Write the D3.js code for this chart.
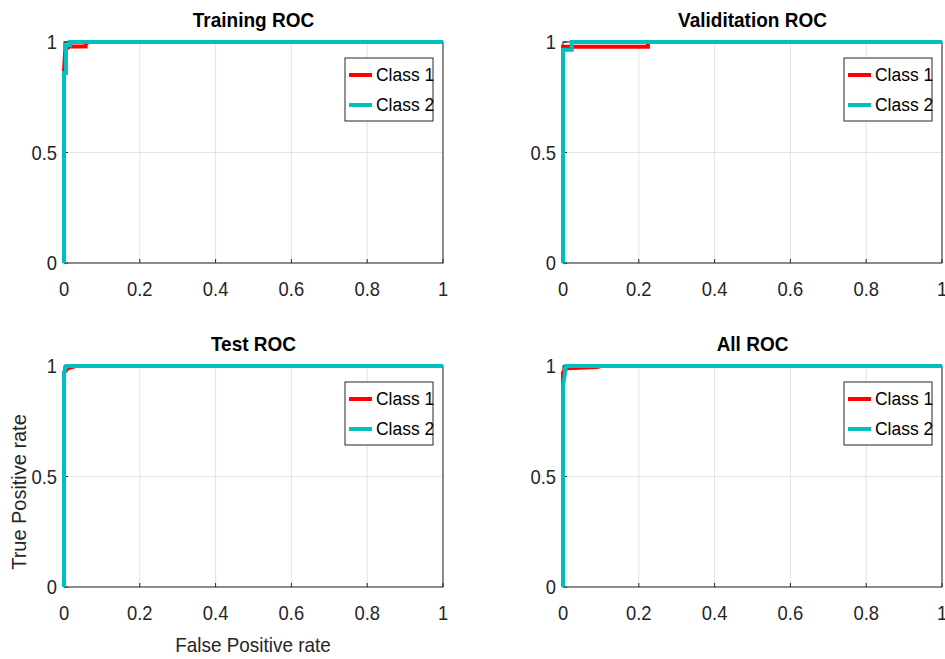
<!DOCTYPE html>
<html>
<head>
<meta charset="utf-8">
<script src="https://cdn.jsdelivr.net/npm/d3@7"></script>
<style>
  body { margin: 0; background: #fff; }
  text { font-family: "Liberation Sans", Arial, sans-serif; fill: #262626; }
</style>
</head>
<body>
<svg id="chart" width="945" height="659"></svg>
<script>
var width = 945, height = 659;

var panelTitles = ["Training ROC", "Validitation ROC", "Test ROC", "All ROC"];
var classNames = ["Class 1", "Class 2"];
var classColors = ["#ff0000", "#00bfbf"];
var xTicks = [0, 0.2, 0.4, 0.6, 0.8, 1];
var yTicks = [0, 0.5, 1];

// ROC points per panel: [fpr, tpr]
var trainClass1 = [[0, 0], [0, 0.87], [0.003, 0.95], [0.006, 0.97], [0.015, 0.98], [0.057, 0.98], [0.057, 0.99], [0.065, 1], [1, 1]];
var trainClass2 = [[0, 0], [0, 0.86], [0.005, 0.86], [0.005, 0.985], [0.016, 0.985], [0.016, 1], [1, 1]];
var valClass1 = [[0, 0], [0, 0.978], [0.224, 0.978], [0.224, 1], [1, 1]];
var valClass2 = [[0, 0], [0, 0.965], [0.023, 0.965], [0.023, 1], [1, 1]];
var testClass1 = [[0, 0], [0, 0.97], [0.01, 0.99], [0.03, 1], [1, 1]];
var testClass2 = [[0, 0], [0, 0.97], [0.006, 1], [1, 1]];
var allClass1 = [[0, 0], [0, 0.97], [0.01, 0.99], [0.09, 0.995], [0.1, 1], [1, 1]];
var allClass2 = [[0, 0], [0, 0.91], [0.008, 1], [1, 1]];

var panelSeries = [
  [trainClass1, trainClass2],
  [valClass1, valClass2],
  [testClass1, testClass2],
  [allClass1, allClass2]
];

var svg = d3.select("#chart");

// axes boxes
var panelX = [64, 563];
var panelY = [42, 366];
var plotW = 379, plotH = 221;

panelSeries.forEach((series, i) => {
  var left = panelX[i % 2];
  var top = panelY[Math.floor(i / 2)];

  var x = d3.scaleLinear().domain([0, 1]).range([0, plotW]);
  var y = d3.scaleLinear().domain([0, 1]).range([plotH, 0]);

  var g = svg.append("g")
      .attr("transform", `translate(${left}, ${top})`);

  // grid
  g.selectAll(".gx")
    .data(xTicks)
    .enter()
    .append("line")
      .attr("x1", d => x(d)).attr("x2", d => x(d))
      .attr("y1", 0).attr("y2", plotH)
      .attr("stroke", "#e3e3e3")
      .attr("stroke-width", 1);

  g.selectAll(".gy")
    .data(yTicks)
    .enter()
    .append("line")
      .attr("x1", 0).attr("x2", plotW)
      .attr("y1", d => y(d)).attr("y2", d => y(d))
      .attr("stroke", "#e3e3e3")
      .attr("stroke-width", 1);

  // box
  g.append("rect")
      .attr("width", plotW)
      .attr("height", plotH)
      .attr("fill", "none")
      .attr("stroke", "#262626")
      .attr("stroke-width", 1);

  // inward ticks
  g.selectAll(".tx")
    .data(xTicks)
    .enter()
    .append("line")
      .attr("x1", d => x(d)).attr("x2", d => x(d))
      .attr("y1", plotH).attr("y2", plotH - 4)
      .attr("stroke", "#262626");

  g.selectAll(".ty")
    .data(yTicks)
    .enter()
    .append("line")
      .attr("x1", 0).attr("x2", 4)
      .attr("y1", d => y(d)).attr("y2", d => y(d))
      .attr("stroke", "#262626");

  // tick labels (slightly condensed like the original)
  g.selectAll(".lx")
    .data(xTicks)
    .enter()
    .append("text")
      .attr("transform", d => `translate(${x(d)}, ${plotH + 33}) scale(0.92, 1)`)
      .attr("text-anchor", "middle")
      .style("font-size", "20px")
      .text(d => d3.format("~g")(d));

  g.selectAll(".ly")
    .data(yTicks)
    .enter()
    .append("text")
      .attr("transform", d => `translate(-7, ${y(d) + 7}) scale(0.92, 1)`)
      .attr("text-anchor", "end")
      .style("font-size", "20px")
      .text(d => d3.format("~g")(d));

  // curves
  var line = d3.line()
      .x(d => x(d[0]))
      .y(d => y(d[1]));

  g.selectAll(".roc")
    .data(series)
    .enter()
    .append("path")
      .attr("d", line)
      .attr("fill", "none")
      .attr("stroke", (d, j) => classColors[j])
      .attr("stroke-width", 4)
      .attr("stroke-linejoin", "miter");

  // title
  g.append("text")
      .attr("transform", `translate(${plotW / 2}, -15) scale(0.95, 1)`)
      .attr("text-anchor", "middle")
      .style("font-size", "20px")
      .style("font-weight", "bold")
      .style("fill", "#000")
      .text(panelTitles[i]);

  // legend
  var lg = g.append("g")
      .attr("transform", `translate(${plotW - 98}, 16)`);

  lg.append("rect")
      .attr("width", 88)
      .attr("height", 63)
      .attr("fill", "#fff")
      .attr("stroke", "#262626");

  classNames.forEach((name, j) => {
    lg.append("line")
        .attr("x1", 4).attr("x2", 27)
        .attr("y1", 17 + j * 30).attr("y2", 17 + j * 30)
        .attr("stroke", classColors[j])
        .attr("stroke-width", 4);
    lg.append("text")
        .attr("transform", `translate(31, ${23 + j * 30}) scale(0.92, 1)`)
        .style("font-size", "19px")
        .style("fill", "#000")
        .text(name);
  });
});

// axis labels
svg.append("text")
    .attr("transform", "translate(253, 652) scale(0.9, 1)")
    .attr("text-anchor", "middle")
    .style("font-size", "21px")
    .text("False Positive rate");

svg.append("text")
    .attr("transform", "translate(26, 492) rotate(-90) scale(0.95, 1)")
    .attr("text-anchor", "middle")
    .style("font-size", "21px")
    .text("True Positive rate");
</script>
</body>
</html>
